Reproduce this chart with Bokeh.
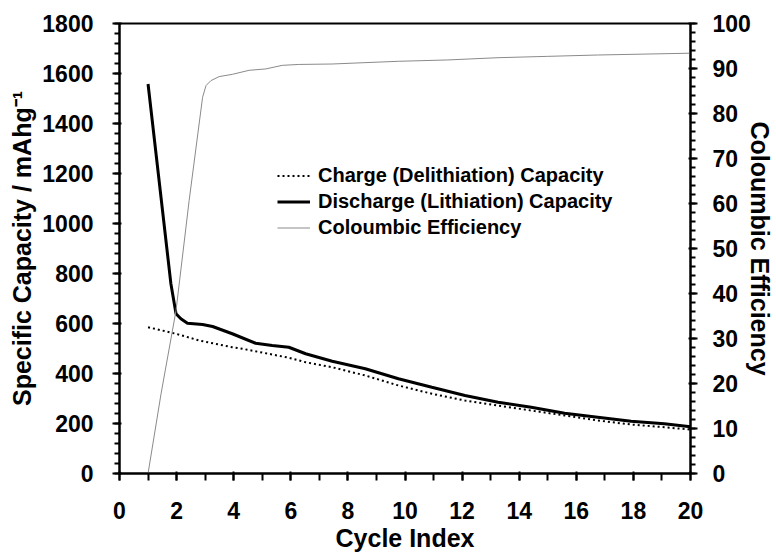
from bokeh.plotting import figure
from bokeh.models import Range1d, LinearAxis, Legend, LegendItem, FixedTicker
from bokeh.embed import file_html
from bokeh.resources import INLINE

# Charge (delithiation) capacity, mAh/g
charge_x = [1.0, 1.98, 2.79, 3.95, 4.3, 5.35, 5.93, 6.52, 7.45, 8.61, 9.77, 10.94, 12.1, 13.26, 14.42, 15.59, 16.75, 17.92, 19.08, 20.0]
charge_y = [585, 559, 532, 505, 499, 476, 463, 445, 425, 392, 352, 319, 292, 272, 252, 232, 212, 196, 185, 176]

# Discharge (lithiation) capacity, mAh/g
dis_x = [1.0, 1.80, 1.98, 2.15, 2.38, 2.91, 3.26, 3.95, 4.77, 5.35, 5.93, 6.52, 7.45, 8.61, 9.77, 10.94, 12.1, 13.26, 14.42, 15.59, 16.75, 17.92, 19.08, 20.0]
dis_y = [1558, 759, 639, 619, 601, 596, 588, 559, 521, 512, 505, 479, 449, 419, 379, 345, 312, 285, 265, 241, 225, 209, 199, 187]

# Coulombic efficiency, %
ce_x = [1.0, 1.455, 1.98, 2.44, 2.91, 3.03, 3.2, 3.49, 3.95, 4.54, 5.12, 5.7, 6.28, 7.45, 8.6, 9.77, 11.5, 13.26, 15.0, 16.75, 20.0]
ce_y = [0.0, 17.7, 36.2, 60.7, 83.6, 86.2, 87.3, 88.2, 88.7, 89.6, 89.9, 90.7, 90.9, 91.0, 91.3, 91.6, 91.9, 92.4, 92.7, 93.0, 93.4]

x_ticks = [0, 2, 4, 6, 8, 10, 12, 14, 16, 18, 20]
left_ticks = [0, 200, 400, 600, 800, 1000, 1200, 1400, 1600, 1800]
right_ticks = [0, 10, 20, 30, 40, 50, 60, 70, 80, 90, 100]

FONT = "Liberation Sans"

p = figure(width=776, height=554, output_backend="svg", toolbar_location=None,
           x_range=Range1d(0, 20), y_range=Range1d(0, 1800),
           min_border_left=119, min_border_right=81, min_border_top=23, min_border_bottom=81)
p.extra_y_ranges = {"ce": Range1d(0, 100)}
p.xgrid.grid_line_alpha = 0
p.ygrid.grid_line_alpha = 0
p.outline_line_color = "black"
p.outline_line_width = 2


def style(ax, minor):
    ax.axis_line_width = 2
    ax.axis_line_color = "black"
    ax.major_tick_line_color = "black"
    ax.minor_tick_line_color = "black"
    ax.major_tick_line_width = 2
    ax.minor_tick_line_width = 2
    ax.major_tick_out = 7
    ax.major_tick_in = 2
    ax.minor_tick_out = minor
    ax.minor_tick_in = 0
    ax.major_label_text_font = FONT
    ax.major_label_text_font_style = "bold"
    ax.major_label_text_font_size = "23px"
    ax.major_label_text_color = "black"
    ax.axis_label_text_font = FONT
    ax.axis_label_text_font_style = "bold"
    ax.axis_label_text_font_size = "25px"
    ax.axis_label_text_color = "black"

xa = p.xaxis[0]
xa.ticker = FixedTicker(ticks=x_ticks, minor_ticks=list(range(0, 21)))
xa.axis_label = "Cycle Index"
style(xa, 7)
xa.major_label_standoff = 21
xa.axis_label_standoff = 2

ya = p.yaxis[0]
ya.ticker = FixedTicker(ticks=left_ticks, minor_ticks=list(range(0, 1801, 40)))
ya.axis_label = "Specific Capacity / mAhg\u207b\u00b9"
style(ya, 5)
ya.major_label_standoff = 19
ya.axis_label_standoff = 3

ra = LinearAxis(y_range_name="ce")
ra.ticker = FixedTicker(ticks=right_ticks, minor_ticks=list(range(0, 101, 2)))
ra.axis_label = "Coloumbic Efficiency"
style(ra, 5)
ra.major_label_standoff = 15
ra.axis_label_standoff = -8
p.add_layout(ra, "right")

r_ch = p.line(charge_x, charge_y, line_color="black", line_width=2, line_dash="2 3")
r_dis = p.line(dis_x, dis_y, line_color="black", line_width=3)
r_ce = p.line(ce_x, ce_y, line_color="#8a8a8a", line_width=1, y_range_name="ce")

legend = Legend(items=[
    LegendItem(label="Charge (Delithiation) Capacity", renderers=[r_ch]),
    LegendItem(label="Discharge (Lithiation) Capacity", renderers=[r_dis]),
    LegendItem(label="Coloumbic Efficiency", renderers=[r_ce]),
], location=(158, 234))
legend.label_text_font = FONT
legend.label_text_font_style = "bold"
legend.label_text_font_size = "20px"
legend.label_text_color = "black"
legend.glyph_width = 33
legend.glyph_height = 21
legend.label_height = 21
legend.label_standoff = 8
legend.spacing = 3
legend.padding = 0
legend.margin = 0
legend.border_line_color = None
legend.background_fill_alpha = 0
p.add_layout(legend)

open("out.html", "w").write(file_html(p, INLINE))
